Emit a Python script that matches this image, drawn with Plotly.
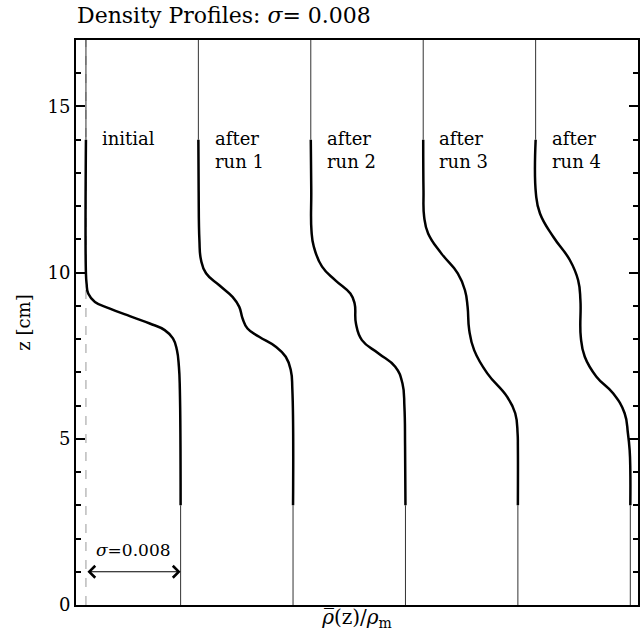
import plotly.graph_objects as go

SIGMA = 0.008          # total density step (in units of rho/rho_m)
OFFSET = 0.0095        # horizontal offset between successive profiles
Z_TOP, Z_BOT = 14.0, 3.0
Z_MAX = 17.0

labels = ["initial", "after<br>run 1", "after<br>run 2", "after<br>run 3", "after<br>run 4"]

# heights z [cm] and normalised density (fraction of sigma) for each profile
z_init = [14, 9.98, 9.67, 9.37, 9.12, 8.92, 8.69, 8.47, 8.27, 8.02, 7.67, 7.17, 6.47, 3]
f_init = [0, 0.0, 0.007, 0.024, 0.095, 0.253, 0.463, 0.674, 0.832, 0.919, 0.961, 0.982, 0.992, 1.0]

z_run1 = [14, 12.48, 10.98, 10.38, 9.98, 9.62, 9.27, 8.97, 8.62, 8.32, 8.07, 7.77, 7.47, 7.07, 6.47, 3]
f_run1 = [0, 0.003, 0.011, 0.028, 0.081, 0.221, 0.361, 0.432, 0.467, 0.519, 0.642, 0.818, 0.923, 0.976, 0.993, 1.0]

z_run2 = [14, 12.48, 11.28, 10.78, 10.18, 9.77, 9.37, 9.07, 8.47, 7.97, 7.57, 7.17, 6.67, 5.96, 4.76, 3]
f_run2 = [0, 0.005, 0.007, 0.032, 0.119, 0.26, 0.418, 0.463, 0.477, 0.54, 0.716, 0.892, 0.968, 0.989, 0.996, 1.0]

z_run3 = [14, 12.48, 11.68, 11.18, 10.58, 9.98, 9.47, 8.97, 8.27, 7.67, 6.97, 6.27, 5.77, 5.16, 4.76, 3]
f_run3 = [0, 0.003, 0.01, 0.052, 0.191, 0.365, 0.441, 0.469, 0.486, 0.538, 0.677, 0.885, 0.972, 0.997, 1.0, 1.0]

z_run4 = [14, 12.38, 11.78, 11.08, 10.38, 9.77, 9.17, 8.07, 7.47, 6.87, 6.37, 5.77, 5.16, 4.66, 4.06, 3]
f_run4 = [0, 0.003, 0.046, 0.186, 0.361, 0.449, 0.473, 0.477, 0.519, 0.642, 0.818, 0.94, 0.975, 0.993, 1.0, 1.0]

profiles = [(z_init, f_init), (z_run1, f_run1), (z_run2, f_run2), (z_run3, f_run3), (z_run4, f_run4)]

FONT = "DejaVu Serif"
fig = go.Figure()

# dashed reference line at the initial upper density
fig.add_trace(go.Scatter(x=[0, 0], y=[0, Z_MAX], mode="lines",
                         line=dict(color="#999", width=1, dash="dash"),
                         hoverinfo="skip", showlegend=False))

for k, (zs, fs) in enumerate(profiles):
    base = k * OFFSET
    xs = [base + SIGMA * f for f in fs]
    # thin extensions above and below the measured range
    fig.add_trace(go.Scatter(x=[base, base], y=[Z_TOP, Z_MAX], mode="lines",
                             line=dict(color="#333", width=1), showlegend=False, hoverinfo="skip"))
    fig.add_trace(go.Scatter(x=[base + SIGMA, base + SIGMA], y=[0, Z_BOT], mode="lines",
                             line=dict(color="#333", width=1), showlegend=False, hoverinfo="skip"))
    # profile
    fig.add_trace(go.Scatter(x=xs, y=zs, mode="lines",
                             line=dict(color="black", width=2.5, shape="spline", smoothing=1.3),
                             showlegend=False))
    fig.add_annotation(x=base + 0.0012, y=14.4, xref="x", yref="y", text=labels[k],
                       showarrow=False, xanchor="left", yanchor="top", align="left",
                       font=dict(family=FONT, size=18, color="black"))

# sigma arrow
fig.add_annotation(x=SIGMA, y=1.0, ax=0, ay=1.0, xref="x", yref="y", axref="x", ayref="y",
                   text="", showarrow=True, arrowhead=4, startarrowhead=4, arrowside="end+start",
                   arrowwidth=1, arrowcolor="black", arrowsize=2.3, startarrowsize=2.3)
fig.add_annotation(x=SIGMA / 2, y=1.3, xref="x", yref="y", text="<i>σ</i>=0.008",
                   showarrow=False, yanchor="bottom",
                   font=dict(family=FONT, size=17, color="black"))

fig.update_layout(
    width=642, height=643,
    margin=dict(l=76, r=2, t=40, b=38),
    paper_bgcolor="white", plot_bgcolor="white",
    title=dict(text="Density Profiles: <i>σ</i>= 0.008", x=77 / 642, xanchor="left",
               y=1 - 15 / 643, yanchor="middle",
               font=dict(family=FONT, size=22, color="black")),
    xaxis=dict(range=[-0.00084, 0.04665], showgrid=False, zeroline=False,
               showline=True, linecolor="black", linewidth=2, mirror=True,
               showticklabels=False, ticks="",
               title=dict(text="<i>ρ̅</i>(z)/<i>ρ</i><sub>m</sub>", standoff=4,
                          font=dict(family=FONT, size=20, color="black"))),
    yaxis=dict(range=[0, Z_MAX], showgrid=False, zeroline=False,
               showline=True, linecolor="black", linewidth=2, mirror="ticks",
               tickvals=[0, 5, 10, 15], ticks="inside", ticklen=9, tickwidth=1.5,
               tickcolor="black",
               minor=dict(dtick=1, ticks="inside", ticklen=5, tickcolor="black"),
               tickfont=dict(family=FONT, size=18, color="black"),
               title=dict(text="z [cm]", standoff=12,
                          font=dict(family=FONT, size=18, color="black"))),
)

fig.write_html("out.html")
